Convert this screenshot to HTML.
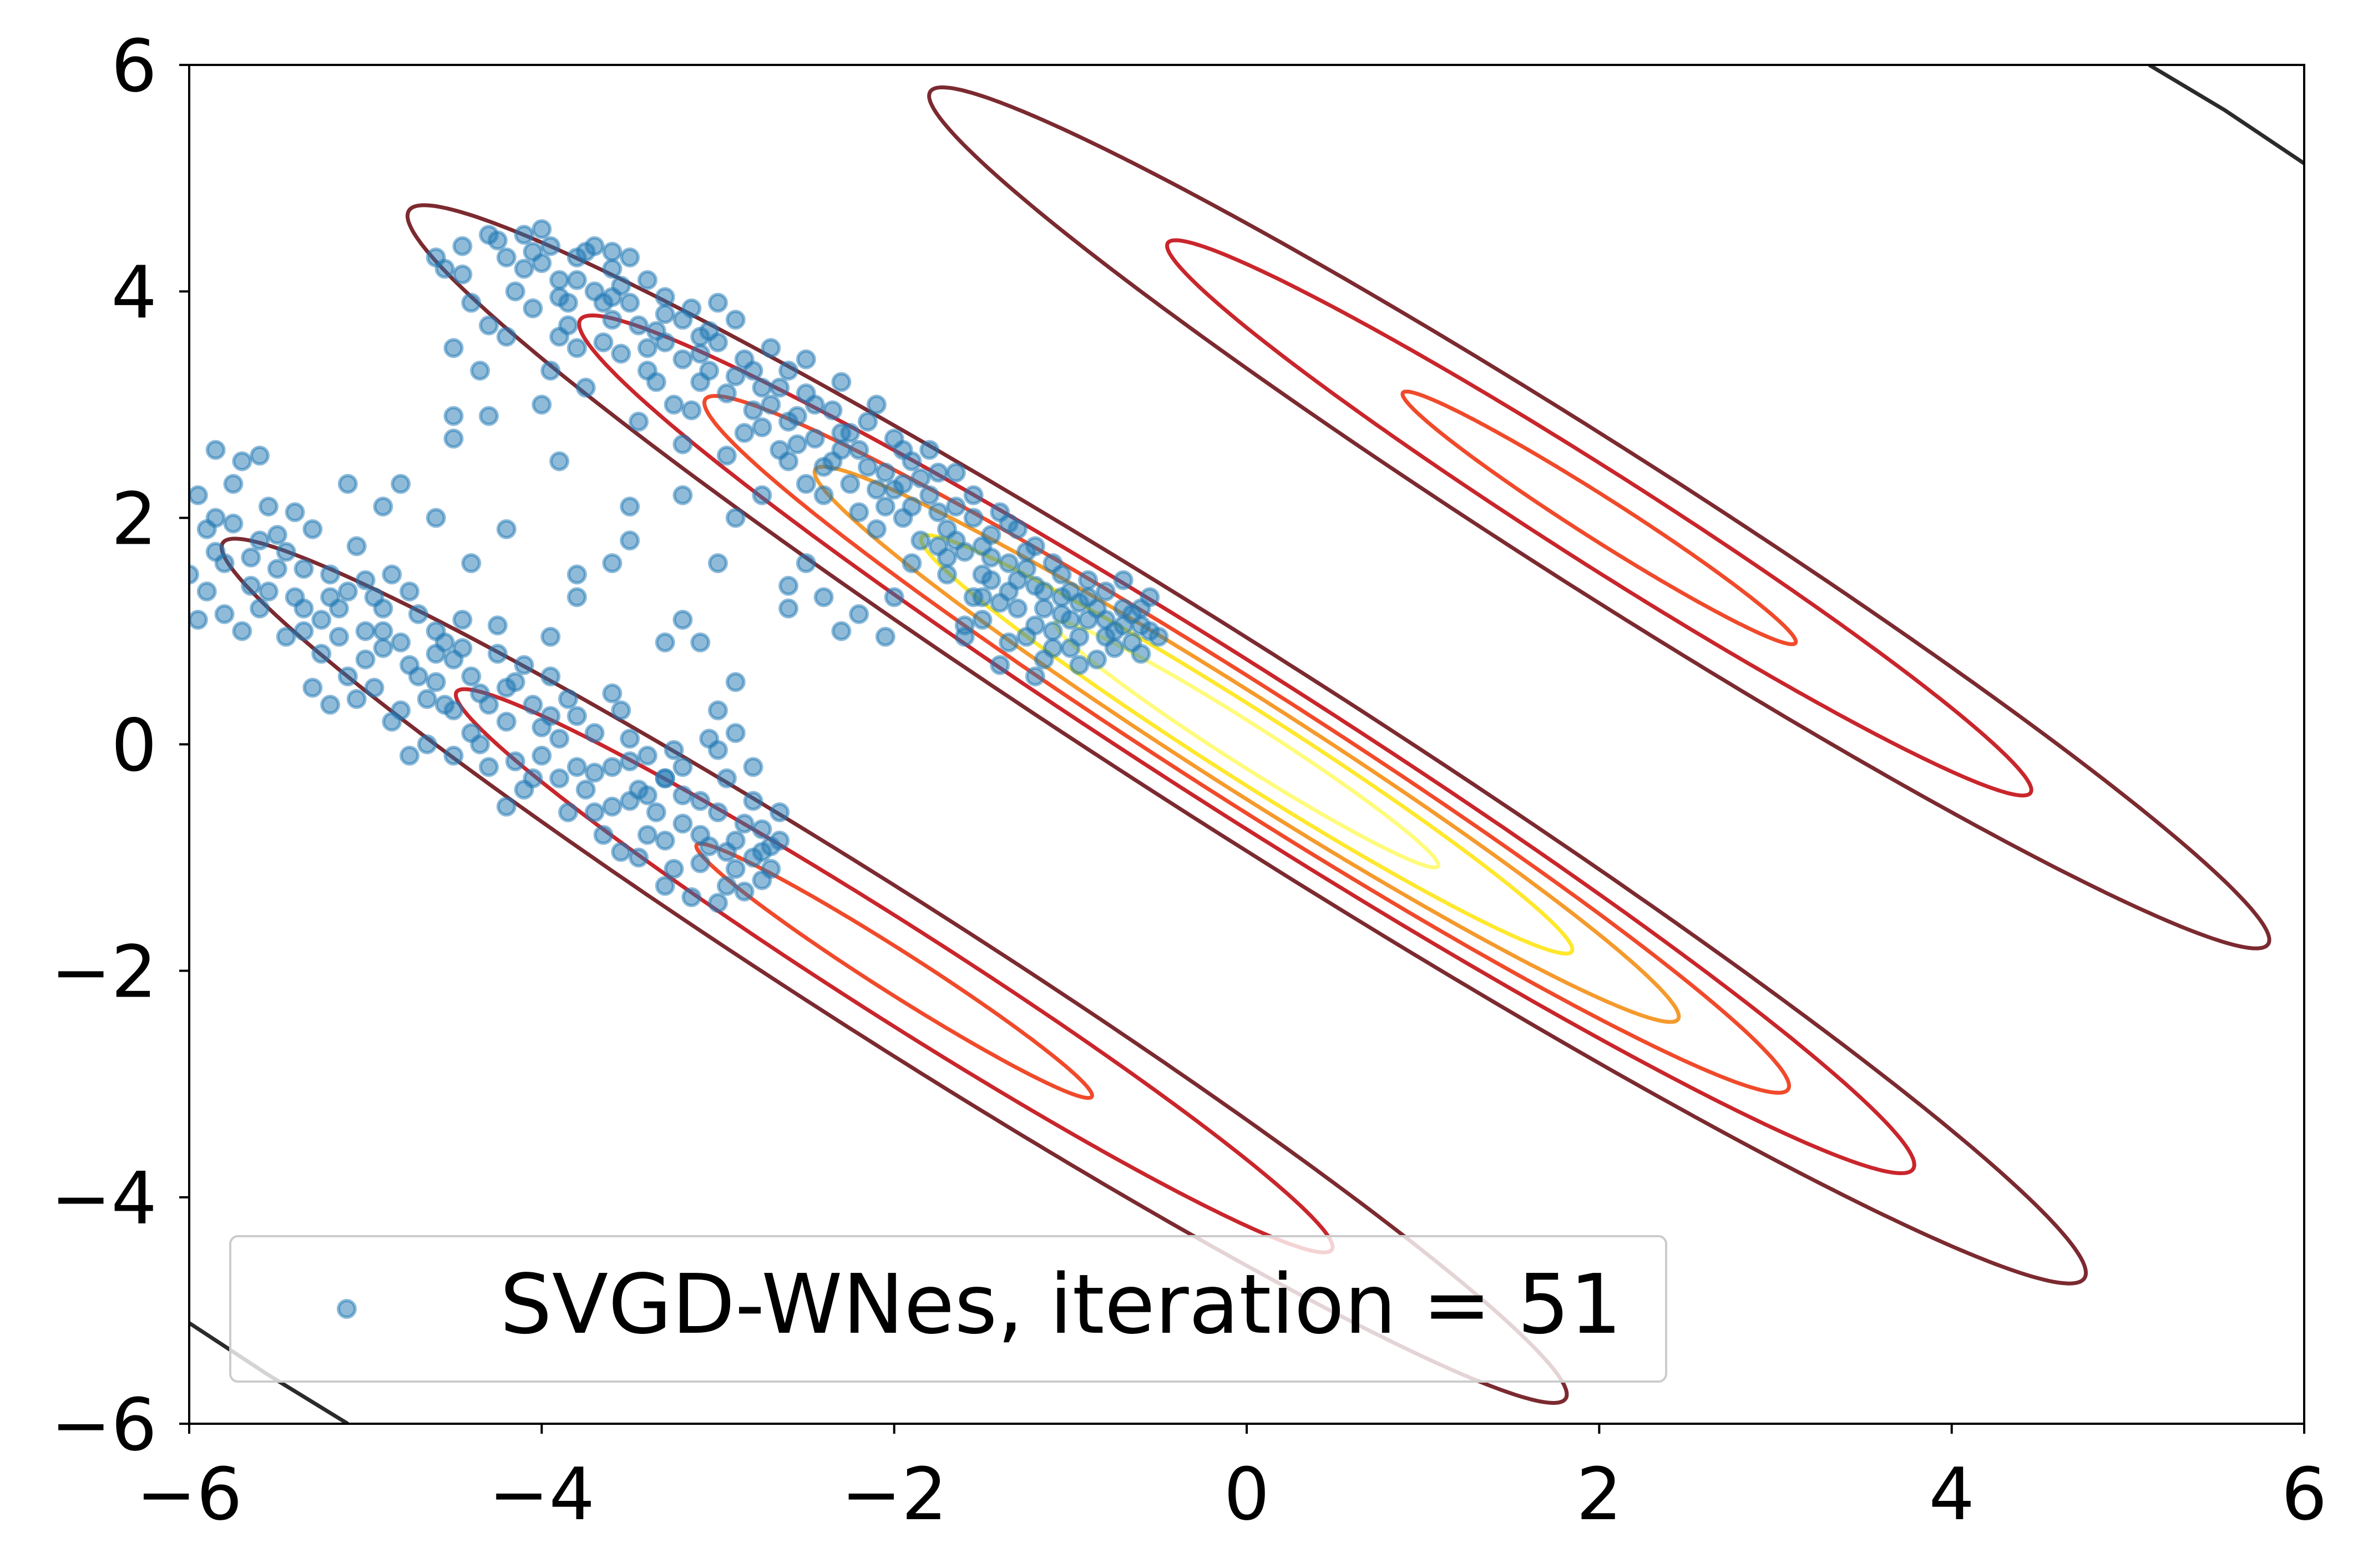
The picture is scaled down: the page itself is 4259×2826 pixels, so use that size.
<!DOCTYPE html>
<html><head><meta charset="utf-8"><style>
html,body{margin:0;padding:0;background:#fff}
svg text{font-family:"DejaVu Sans","Liberation Sans",sans-serif;fill:#000}
</style></head><body>
<svg id="chart" width="4259" height="2821" viewBox="0 0 4259 2821" xmlns="http://www.w3.org/2000/svg">
<defs><clipPath id="clip"><rect x="341" y="117" width="3812" height="2449"/></clipPath></defs>
<rect x="341" y="117" width="3812" height="2449" fill="#fff"/>
<g id="contours" clip-path="url(#clip)"></g>
<g id="points" clip-path="url(#clip)"></g>
<rect x="341" y="117" width="3812" height="2449" fill="none" stroke="#000" stroke-width="4"/>
<g id="ticks"></g>
<g>
<rect x="415" y="2228" width="2588" height="262" rx="14" fill="#fff" fill-opacity="0.8" stroke="#ccc" stroke-width="4"/>
<circle cx="625" cy="2359" r="15" fill="rgba(31,119,180,0.5)" stroke="rgba(31,119,180,0.5)" stroke-width="6"/>
<text x="901" y="2402" font-size="148">SVGD-WNes, iteration = 51</text>
</g>
</svg>
<script>
const xTicks=[-6,-4,-2,0,2,4,6];
const yTicks=[-6,-4,-2,0,2,4,6];
const compCenters=[[2,2],[0,0],[-2,-2]];
const compHalfLengths=[[5.35,3.45,1.57],[6.7,5.33,4.33,3.45,2.6,1.53],[5.37,3.5,1.58]];
const compColors=[["#7b2a30","#c9262c","#f04a2b"],["#7b2a30","#c9262c","#f04a2b","#f59a2c","#ffe82d","#fffb7c"],["#7b2a30","#c9262c","#f04a2b"]];
const widthRatio=0.1;
const cornerLines=[[[5.12,6],[5.55,5.6],[6,5.13]],[[-6,-5.11],[-5.55,-5.57],[-5.1,-6]]];
const upperCluster=[[-4.55,4.2],[-4.45,4.15],[-4.3,4.5],[-4.25,4.45],[-4.4,3.9],[-4.5,3.5],[-4.35,3.3],[-4.2,4.3],[-4.15,4.0],[-4.3,3.7],[-4.6,4.3],
[-4.1,4.5],[-4.0,4.55],[-3.95,4.4],[-3.9,4.1],[-4.05,3.85],[-3.85,3.7],[-3.95,3.3],[-4.0,3.0],[-3.8,4.3],[-3.75,4.35],[-3.7,4.4],[-3.7,4.0],[-3.85,3.9],[-3.6,4.2],[-4.1,4.2],[-3.9,3.95],[-3.8,3.5],[-3.75,3.15],[-3.65,3.55],
[-3.5,3.9],[-3.45,3.7],[-3.4,4.1],[-3.3,3.8],[-3.2,3.4],[-3.35,3.2],[-3.25,3.0],[-3.1,3.6],[-3.0,3.9],[-3.05,3.3],[-3.15,2.95],[-3.55,3.45],[-3.6,3.75],[-3.4,3.5],[-3.2,3.75],[-3.0,3.55],[-3.1,3.2],[-2.95,3.1],[-3.3,3.95],[-3.5,4.3],[-3.6,4.35],[-3.45,2.85],[-3.2,2.65],[-2.9,3.75],[-2.85,3.4],
[-2.8,3.3],[-2.7,3.0],[-2.75,2.8],[-2.6,3.3],[-2.55,2.9],[-2.5,3.1],[-2.45,2.7],[-2.65,2.6],[-2.4,2.45],[-2.35,2.95],[-2.3,3.2],[-2.5,3.4],[-2.2,2.6],[-2.25,2.3],[-2.6,2.5],[-2.85,2.75],[-2.7,3.5],[-2.4,2.2],[-2.3,2.75],[-2.15,2.85],[-2.1,3.0],[-2.5,2.3],[-2.05,2.4],[-2.0,2.7],[-2.95,2.55],[-2.75,2.2],[-2.0,2.25],
[-1.95,2.0],[-1.9,2.5],[-1.85,1.8],[-1.8,2.2],[-1.75,2.4],[-1.7,1.9],[-1.65,2.1],[-1.6,1.7],[-1.55,2.0],[-1.5,1.5],[-1.45,1.85],[-1.4,2.05],[-1.35,1.6],[-1.3,1.9],[-1.9,1.6],[-1.7,1.5],[-1.8,2.6],[-2.0,1.3],[-1.55,1.3],[-1.65,2.4],[-1.5,1.75],[-2.1,1.9],[-2.2,2.05],[-1.95,2.3],[-1.75,1.75],[-1.45,1.45],[-1.25,1.7],
[-1.2,1.4],[-1.15,1.2],[-1.1,1.0],[-1.05,1.5],[-1.0,0.85],[-0.95,1.25],[-0.9,1.1],[-0.85,0.75],[-0.8,1.35],[-0.75,1.0],[-0.7,1.2],[-0.65,0.9],[-0.6,1.05],[-0.55,1.3],[-0.5,0.95],[-1.25,0.95],[-1.15,0.75],[-0.95,0.7],[-1.3,1.2],[-1.05,1.3],[-0.9,1.45],[-0.7,1.45],[-1.4,1.25],[-1.35,0.9],[-1.2,0.6],[-0.6,0.8],[-1.0,1.1],[-0.8,0.95],[-1.1,1.6],[-1.25,1.55],[-0.65,1.15],[-0.85,1.2],[-1.5,1.1],[-1.6,1.05],[-1.6,0.95],[-1.4,0.7],
[-4.45,4.4],[-4.2,3.6],[-4.05,4.35],[-3.9,3.6],[-3.65,3.9],[-3.55,4.05],[-3.4,3.3],[-3.3,3.55],[-3.15,3.85],[-3.05,3.65],[-2.9,3.25],[-2.8,2.95],[-2.65,3.15],[-2.55,2.65],[-2.45,3.0],[-2.35,2.5],[-2.25,2.75],[-2.15,2.45],[-2.05,2.1],[-1.95,2.6],[-1.85,2.35],[-1.75,2.05],[-1.65,1.8],[-1.55,2.2],[-1.45,1.65],[-1.35,1.95],[-1.3,1.45],[-1.2,1.75],[-1.15,1.35],[-1.05,1.15],[-0.95,0.95],[-0.9,1.3],[-0.8,1.1],[-0.75,0.85],[-0.7,1.05],[-0.6,1.2],[-0.55,1.0],[-1.1,0.85],[-1.0,1.35],[-1.2,1.05],[-1.35,1.35],[-1.5,1.3],[-1.7,1.65],[-1.9,2.1],[-2.1,2.25],[-2.3,2.6],[-2.6,2.85],[-2.75,3.15],[-3.1,3.45],[-3.35,3.65],[-3.6,3.95],[-3.8,4.1],[-4.0,4.25]];
const lowerCluster=[[-5.95,2.2],[-5.9,1.9],[-5.85,2.6],[-5.8,1.6],[-5.75,2.3],[-5.7,2.5],[-5.65,1.4],[-5.6,1.8],[-5.55,2.1],[-5.9,1.35],[-5.95,1.1],[-5.8,1.15],[-5.7,1.0],[-5.6,2.55],[-5.5,1.55],[-5.85,1.7],[-6.0,1.5],[-5.75,1.95],[-5.6,1.2],
[-5.45,1.7],[-5.4,1.3],[-5.35,1.0],[-5.3,1.9],[-5.25,0.8],[-5.2,1.5],[-5.15,1.2],[-5.1,0.6],[-5.05,1.75],[-5.0,1.0],[-5.4,2.05],[-5.35,1.55],[-5.2,0.35],[-5.1,1.35],[-5.0,0.75],[-5.45,0.95],[-5.25,1.1],[-5.0,1.45],[-5.3,0.5],
[-4.95,0.5],[-4.9,1.2],[-4.85,0.2],[-4.8,0.9],[-4.75,1.35],[-4.7,0.6],[-4.65,0.0],[-4.6,1.0],[-4.55,0.35],[-4.5,0.75],[-4.45,1.1],[-4.4,0.1],[-4.9,0.85],[-4.8,0.3],[-4.7,1.15],[-4.6,0.55],[-4.5,-0.1],[-4.95,1.3],[-4.85,1.5],[-4.4,0.6],[-4.75,-0.1],[-4.55,0.9],
[-4.35,0.45],[-4.3,-0.2],[-4.25,0.8],[-4.2,0.2],[-4.15,0.55],[-4.1,-0.4],[-4.05,0.35],[-4.0,-0.1],[-3.95,0.6],[-3.9,0.05],[-3.85,-0.6],[-3.8,0.25],[-4.2,-0.55],[-4.0,0.15],[-3.9,-0.3],[-4.3,0.35],[-4.1,0.7],[-3.8,-0.2],[-4.15,-0.15],[-3.95,0.95],[-4.25,1.05],
[-3.75,-0.4],[-3.7,0.1],[-3.65,-0.8],[-3.6,-0.2],[-3.55,0.3],[-3.5,-0.5],[-3.45,-1.0],[-3.4,-0.1],[-3.35,-0.6],[-3.3,-0.3],[-3.25,-1.1],[-3.2,-0.7],[-3.7,-0.6],[-3.6,0.45],[-3.5,-0.15],[-3.4,-0.8],[-3.3,-1.25],[-3.25,-0.05],[-3.55,-0.95],[-3.45,-0.4],
[-3.15,-1.35],[-3.1,-0.5],[-3.05,-0.9],[-3.0,-1.4],[-2.95,-0.3],[-2.9,-1.1],[-2.85,-0.7],[-2.8,-0.5],[-2.75,-1.2],[-2.7,-0.9],[-2.65,-0.6],[-3.0,-0.6],[-2.9,-0.85],[-2.8,-1.0],[-3.1,-1.05],[-2.95,-1.25],[-2.75,-0.75],[-2.7,-1.1],[-3.2,-0.2],[-3.05,0.05],[-3.0,-0.05],
[-5.85,2.0],[-5.65,1.65],[-5.55,1.35],[-5.35,1.2],[-5.15,0.95],[-5.05,0.4],[-4.9,1.0],[-4.75,0.7],[-4.65,0.4],[-4.5,0.3],[-4.45,0.85],[-4.35,0.0],[-4.2,0.5],[-4.05,-0.3],[-3.95,0.25],[-3.85,0.4],[-3.7,-0.25],[-3.6,-0.55],[-3.5,0.05],[-3.4,-0.45],[-3.3,-0.85],[-3.2,-0.45],[-3.1,-0.8],[-2.95,-0.95],[-2.85,-1.3],[-2.75,-0.95],[-2.65,-0.85],[-4.6,0.8],[-5.2,1.3],[-5.5,1.85]];
const scatterMid=[[-3.5,2.1],[-3.5,1.8],[-3.0,1.6],[-2.9,2.0],[-2.4,1.3],[-3.6,1.6],[-3.8,1.5],[-4.2,1.9],[-4.4,1.6],[-4.6,2.0],[-4.9,2.1],[-5.1,2.3],[-3.8,1.3],[-3.2,1.1],[-2.6,1.4],[-2.6,1.2],[-2.3,1.0],[-3.1,0.9],[-3.0,0.3],[-2.9,0.1],[-2.8,-0.2],[-3.3,-0.3],[-4.5,2.7],[-4.5,2.9],[-4.3,2.9],[-3.9,2.5],[-3.2,2.2],[-2.9,0.55],[-3.3,0.9],[-4.8,2.3],[-2.5,1.6],[-2.05,0.95],[-2.2,1.15]];
const ns='http://www.w3.org/2000/svg';
const X=x=>341+(x+6)*317.67;
const Y=y=>2566-(y+6)*204.08;
const cg=document.getElementById('contours');
compCenters.forEach((c,i)=>{
  compHalfLengths[i].forEach((a,j)=>{
    const b=a*widthRatio;let d='';
    for(let k=0;k<=360;k++){const t=k*Math.PI/180;const s=Math.SQRT1_2;
      const px=c[0]+a*Math.cos(t)*s+b*Math.sin(t)*s;
      const py=c[1]-a*Math.cos(t)*s+b*Math.sin(t)*s;
      d+=(k?'L':'M')+X(px).toFixed(1)+','+Y(py).toFixed(1);}
    const p=document.createElementNS(ns,'path');
    
    
    p.setAttribute('d',d+'Z');p.setAttribute('fill','none');
    p.setAttribute('stroke',compColors[i][j]);p.setAttribute('stroke-width','7');
    cg.appendChild(p);
  });
});
cornerLines.forEach(l=>{
  const p=document.createElementNS(ns,'path');
  
  
  p.setAttribute('d',l.map((q,k)=>(k?'L':'M')+X(q[0])+','+Y(q[1])).join(''));
  p.setAttribute('fill','none');p.setAttribute('stroke','#2b2b2b');p.setAttribute('stroke-width','7');
  cg.appendChild(p);
});
const pg=document.getElementById('points');
[upperCluster,lowerCluster,scatterMid].forEach(arr=>arr.forEach(q=>{
  const c=document.createElementNS(ns,'circle');
  
  
  c.setAttribute('cx',X(q[0]));c.setAttribute('cy',Y(q[1]));c.setAttribute('r','15');
  c.setAttribute('fill','rgba(31,119,180,0.5)');c.setAttribute('stroke','rgba(31,119,180,0.5)');c.setAttribute('stroke-width','6');
  pg.appendChild(c);
}));
const tg=document.getElementById('ticks');
const fmt=v=>v<0?'\u2212'+(-v):''+v;
xTicks.forEach(v=>{
  const l=document.createElementNS(ns,'line');
  
  
  l.setAttribute('x1',X(v));l.setAttribute('x2',X(v));l.setAttribute('y1',2566);l.setAttribute('y2',2584);
  l.setAttribute('stroke','#000');l.setAttribute('stroke-width','4');tg.appendChild(l);
  const t=document.createElementNS(ns,'text');
  
  
  t.setAttribute('x',X(v));t.setAttribute('y',2738);t.setAttribute('font-size','130');t.setAttribute('text-anchor','middle');
  t.textContent=fmt(v);tg.appendChild(t);
});
yTicks.forEach(v=>{
  const l=document.createElementNS(ns,'line');
  
  
  l.setAttribute('x1',323);l.setAttribute('x2',341);l.setAttribute('y1',Y(v));l.setAttribute('y2',Y(v));
  l.setAttribute('stroke','#000');l.setAttribute('stroke-width','4');tg.appendChild(l);
  const t=document.createElementNS(ns,'text');
  
  
  t.setAttribute('x',283);t.setAttribute('y',Y(v)+47);t.setAttribute('font-size','130');t.setAttribute('text-anchor','end');
  t.textContent=fmt(v);tg.appendChild(t);
});
</script>
</body></html>
